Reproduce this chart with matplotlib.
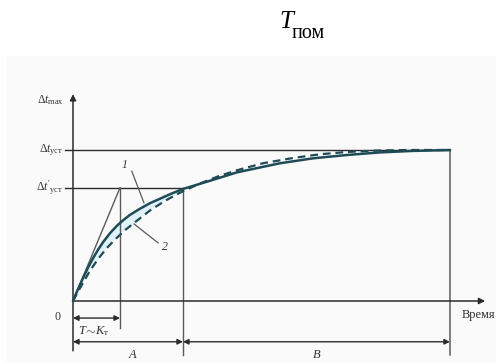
import matplotlib
matplotlib.use("Agg")
import matplotlib.pyplot as plt
from matplotlib.patches import Rectangle

plt.rcParams['mathtext.fontset'] = 'custom'
plt.rcParams['mathtext.rm'] = 'Liberation Serif'
plt.rcParams['mathtext.it'] = 'Liberation Serif:italic'
plt.rcParams['font.family'] = ['Liberation Serif', 'DejaVu Serif']

# ---------------- data (time in units of T, temperature rise in units of Δt_уст) ----
title_main = "T"
title_sub = "пом"

t_tangent = 1.0      # T ≈ K_т
t_A = 2.34           # end of region A
t_B = 8.02           # end of region B
v_max = 1.33
v_ust = 1.0
v_ust1 = 0.75

# curve 1 (solid)
t_solid = [0, 0.10, 0.21, 0.32, 0.43, 0.54, 0.64, 0.79, 0.94, 1.08, 1.21, 1.43, 1.64, 1.87, 2.10, 2.34,
           2.85, 3.49, 4.40, 5.11, 5.83, 6.53, 7.23, 8.02]
v_solid = [0, 0.074, 0.150, 0.222, 0.285, 0.343, 0.390, 0.450, 0.500, 0.538, 0.570, 0.612, 0.648, 0.680,
           0.712, 0.742, 0.790, 0.852, 0.912, 0.945, 0.967, 0.984, 0.994, 1.0]

# curve 2 (dashed)
t_dash = [0, 0.15, 0.36, 0.55, 0.72, 0.92, 1.11, 1.30, 1.64, 1.95, 2.28, 2.70, 3.10, 3.49, 4.04, 4.68,
          5.26, 5.83, 6.47, 7.11, 8.02]
v_dash = [0, 0.086, 0.200, 0.285, 0.351, 0.415, 0.470, 0.517, 0.600, 0.662, 0.718, 0.778, 0.827, 0.866,
          0.912, 0.947, 0.972, 0.987, 0.996, 1.0, 1.0]

y_labels = [r"$\Delta t_{\mathrm{max}}$", r"$\Delta t_{\mathrm{уст}}$", r"$\Delta t'_{\mathrm{уст}}$"]
y_label_levels = [v_max, v_ust, v_ust1]
x_label = "Время"
lbl_T = r"$T\!\sim\!K_{\mathrm{т}}$"
lbl_A = "A"
lbl_B = "B"
curve_names = ["1", "2"]

# ---------------- figure ----------------
W, H = 499, 363
fig = plt.figure(figsize=(W / 100, H / 100), dpi=100)
fig.patches.append(Rectangle((7 / W, 0), (495 - 7) / W, (H - 56) / H,
                             transform=fig.transFigure, color='#fafafa', zorder=-5))
ax = fig.add_axes([0, 0, 1, 1])
ax.set_zorder(1)
ax.axis('off')
# pixel mapping: origin at (73, 301) px, 47 px per time unit, 151 px per temperature unit
ax.set_xlim(-73 / 47, (W - 73) / 47)
ax.set_ylim(-(H - 301) / 151, 301 / 151)

line_c = '#2b2b2b'
thin_c = '#5a5a5a'
curve_c = '#1f4b57'
text_c = '#333333'

# shading between curves near origin
poly_t = [t for t in t_solid if t <= t_A] + [t for t in reversed(t_dash) if t <= t_A]
poly_v = [v for t, v in zip(t_solid, v_solid) if t <= t_A] + \
         [v for t, v in zip(reversed(t_dash), reversed(v_dash)) if t <= t_A]
ax.fill(poly_t, poly_v, color='#def2f7', lw=0, zorder=1)

# axes with arrows
ax.annotate('', xy=(0, v_max + 0.04), xytext=(0, -0.33),
            arrowprops=dict(arrowstyle='-|>', color=line_c, lw=1.1, shrinkA=0, shrinkB=0,
                            mutation_scale=9))
ax.annotate('', xy=(8.77, 0), xytext=(0, 0),
            arrowprops=dict(arrowstyle='-|>', color=line_c, lw=1.1, shrinkA=0, shrinkB=0,
                            mutation_scale=9))

# horizontal reference lines
ax.plot([-0.18, t_B], [v_ust, v_ust], color=line_c, lw=1.0, zorder=2)
ax.plot([-0.18, t_A], [v_ust1, v_ust1], color=line_c, lw=1.0, zorder=2)

# vertical lines
ax.plot([t_tangent, t_tangent], [v_ust1, -0.18], color=thin_c, lw=1.0, zorder=2)
ax.plot([t_A, t_A], [v_ust1, -0.36], color=thin_c, lw=1.0, zorder=2)
ax.plot([t_B, t_B], [v_ust, -0.36], color=thin_c, lw=1.1, zorder=2)

# tangent
ax.plot([0, t_tangent], [0, v_ust1], color=thin_c, lw=1.0, zorder=2)

# curves
ax.plot(t_solid, v_solid, color=curve_c, lw=1.8, zorder=4, solid_capstyle='round',
        solid_joinstyle='round')
ax.plot(t_dash, v_dash, color=curve_c, lw=1.6, zorder=3, dashes=(3.5, 2.2))

# dimension arrows
def dim(x0, x1, y):
    ax.annotate('', xy=(x1, y), xytext=(x0, y),
                arrowprops=dict(arrowstyle='<|-|>', color=line_c, lw=1.0,
                                shrinkA=0, shrinkB=0, mutation_scale=8))

v_T = -0.113
v_AB = -0.27
dim(0, t_tangent, v_T)
dim(0, t_A, v_AB)
dim(t_A, t_B, v_AB)

# labels
fs = 8.5
for lbl, lev in zip(y_labels, y_label_levels):
    ax.text(-0.2, lev, lbl, ha='right', va='center', fontsize=fs, color=text_c)
ax.text(-0.34, -0.106, "0", ha='center', va='center', fontsize=fs, color=text_c)
ax.text(8.28, -0.09, x_label, ha='left', va='center', fontsize=9, color=text_c)
ax.text(0.44, -0.2, lbl_T, ha='center', va='center', fontsize=fs + 0.5, color=text_c)
ax.text(1.26, -0.36, lbl_A, ha='center', va='center', fontsize=fs + 0.5, style='italic', color=text_c)
ax.text(5.19, -0.36, lbl_B, ha='center', va='center', fontsize=fs + 0.5, style='italic', color=text_c)

# curve callouts
ax.text(1.10, 0.90, curve_names[0], ha='center', va='center', fontsize=fs, style='italic', color=text_c)
ax.plot([1.25, 1.51], [0.86, 0.65], color=thin_c, lw=0.9, zorder=5)
ax.text(1.96, 0.36, curve_names[1], ha='center', va='center', fontsize=fs, style='italic', color=text_c)
ax.plot([1.30, 1.81], [0.51, 0.385], color=thin_c, lw=0.9, zorder=5)

# title
fig.text(279 / W, 1 - 28.5 / H, title_main, fontsize=18, style='italic',
         family='Liberation Serif', ha='left', va='baseline')
fig.text(292 / W, 1 - 38.5 / H, title_sub, fontsize=14.5,
         family='Liberation Serif', ha='left', va='baseline')

fig.savefig('out.png', dpi=100)
